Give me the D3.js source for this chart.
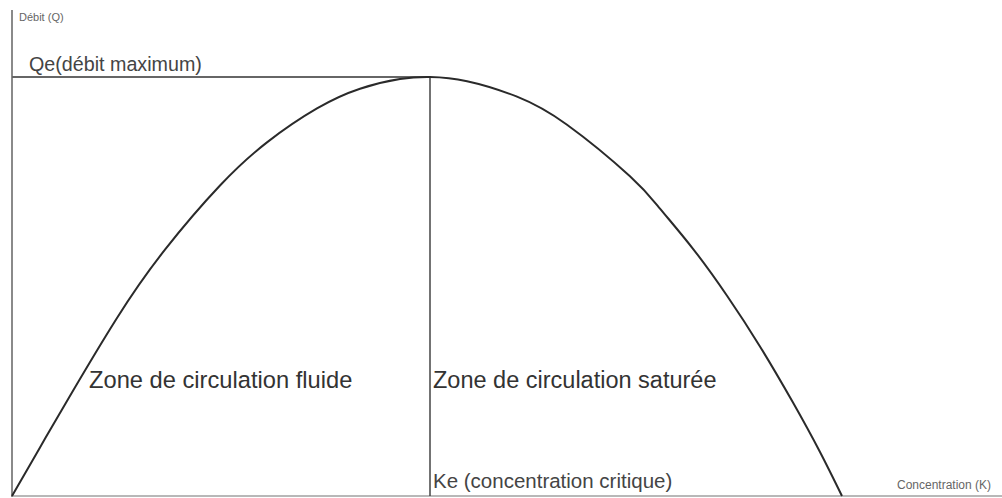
<!DOCTYPE html>
<html>
<head>
<meta charset="utf-8">
<script src="https://cdn.jsdelivr.net/npm/d3@7"></script>
<style>
  body { margin: 0; background: #fff; }
  svg { display: block; font-family: "Liberation Sans", Arial, sans-serif; }
</style>
</head>
<body>
<div id="chart"></div>
<script>
// concentration K (arbitrary units, Ke = 50) and flow Q (% of Qe)
const concentration = [0, 3.35, 6.58, 12.56, 18.3, 24.88, 30.5, 36.48, 41.63, 46.41, 50,
                       54.43, 60.41, 66.39, 73.92, 77.51, 81.46, 85.53, 89.47, 93.42, 96.65, 99.28];
const debit = [0, 11.6, 22.7, 42.5, 58.8, 74.1, 84.4, 92.5, 97.2, 99.5, 100,
               99.0, 95.3, 88.6, 76.3, 68.6, 59.0, 47.8, 35.7, 22.3, 10.5, 0];
const Ke = 50;
const Qe = 100;
const axisLabels = ["Débit (Q)", "Concentration (K)"];
const zoneLabels = ["Zone de circulation fluide", "Zone de circulation saturée"];
const refLabels = ["Qe(débit maximum)", "Ke (concentration critique)"];

const width = 1002, height = 498;

const svg = d3.select("#chart").append("svg")
    .attr("width", width)
    .attr("height", height);

const x = d3.scaleLinear().domain([0, 100]).range([12, 848]);
const y = d3.scaleLinear().domain([0, 100]).range([496, 77]);

const points = concentration.map((k, i) => ({k: k, q: debit[i]}));

// axes (plain lines, no ticks)
svg.append("line")
    .attr("x1", x(0)).attr("x2", x(0))
    .attr("y1", 10).attr("y2", y(0) + 1)
    .style("stroke", "#8a8a8a").style("stroke-width", 2);
svg.append("line")
    .attr("x1", x(0)).attr("x2", width)
    .attr("y1", y(0)).attr("y2", y(0))
    .style("stroke", "#a0a0a0").style("stroke-width", 1.5);

// Qe and Ke reference lines
svg.append("line")
    .attr("x1", x(0)).attr("x2", x(Ke))
    .attr("y1", y(Qe)).attr("y2", y(Qe))
    .style("stroke", "#666").style("stroke-width", 2);
svg.append("line")
    .attr("x1", x(Ke)).attr("x2", x(Ke))
    .attr("y1", y(Qe)).attr("y2", y(0))
    .style("stroke", "#444").style("stroke-width", 1.5);

// the flow / concentration curve
const line = d3.line()
    .x(d => x(d.k))
    .y(d => y(d.q))
    .curve(d3.curveNatural);

svg.append("path")
    .datum(points)
    .attr("d", line)
    .style("fill", "none")
    .style("stroke", "#2a2a2a")
    .style("stroke-width", 2);

// texts
svg.append("text")
    .attr("x", 19).attr("y", 21)
    .style("font-size", "11px").style("fill", "#666")
    .text(axisLabels[0]);
svg.append("text")
    .attr("x", 897).attr("y", 489)
    .style("font-size", "12px").style("fill", "#666")
    .text(axisLabels[1]);

svg.append("text")
    .attr("x", 29).attr("y", 71)
    .style("font-size", "19.7px").style("fill", "#444")
    .text(refLabels[0]);
svg.append("text")
    .attr("x", x(Ke) + 3).attr("y", 488)
    .style("font-size", "20.5px").style("fill", "#444")
    .text(refLabels[1]);

svg.append("text")
    .attr("x", 89).attr("y", 388)
    .style("font-size", "23.7px").style("fill", "#333")
    .text(zoneLabels[0]);
svg.append("text")
    .attr("x", x(Ke) + 3).attr("y", 388)
    .style("font-size", "23.5px").style("fill", "#333")
    .text(zoneLabels[1]);
</script>
</body>
</html>
